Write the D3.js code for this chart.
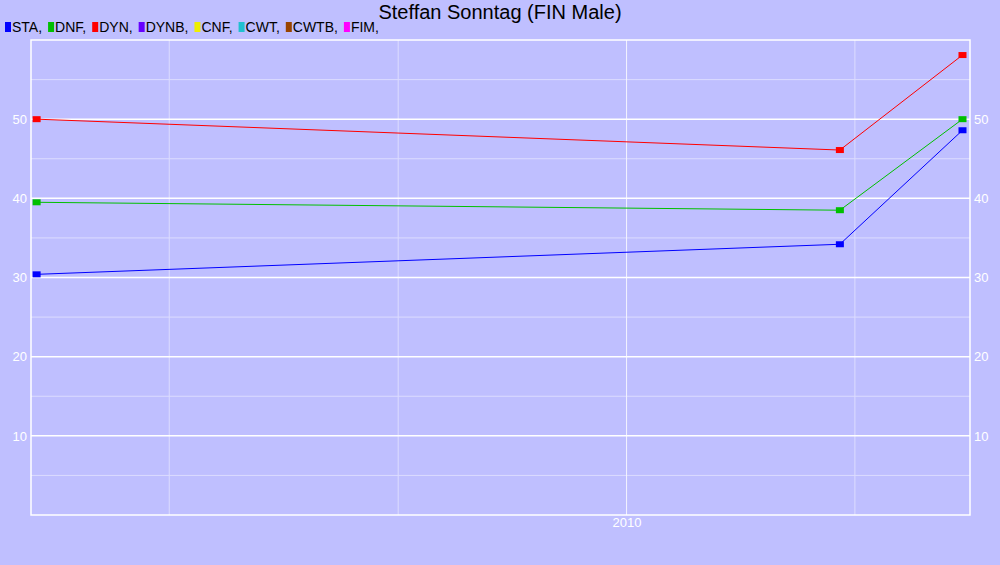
<!DOCTYPE html>
<html>
<head>
<meta charset="utf-8">
<script src="https://cdn.jsdelivr.net/npm/d3@7"></script>
<style>
  body { margin: 0; background: #bfbfff; }
  svg { display: block; font-family: "Liberation Sans", Arial, sans-serif; }
</style>
</head>
<body>
<svg width="1000" height="565"></svg>
<script>
// series names and colours for the legend
const disciplines = ["STA", "DNF", "DYN", "DYNB", "CNF", "CWT", "CWTB", "FIM"];
const colors = ["#0000ff", "#00c000", "#ff0000", "#6600ff", "#eeee00", "#20c0d0", "#994400", "#ff00ff"];

// competition dates
const dates = ["2007-06-03", "2010-12-08", "2011-06-22"];

// results (only STA, DNF, DYN have data)
const staValues = [30.4, 34.2, 48.6];
const dnfValues = [39.5, 38.5, 50];
const dynValues = [50, 46.1, 58.1];

const yTicks = [10, 20, 30, 40, 50];
const title = "Steffan Sonntag (FIN Male)";

const parse = d3.timeParse("%Y-%m-%d");
const svg = d3.select("svg"),
  width = +svg.attr("width"),
  height = +svg.attr("height");

const margin = {top: 40, right: 30, bottom: 50, left: 31};
const plotW = width - margin.left - margin.right,
  plotH = height - margin.top - margin.bottom;

const x = d3.scaleTime()
  .domain([parse("2007-05-25"), parse("2011-07-04")])
  .range([margin.left, margin.left + plotW]);
const y = d3.scaleLinear()
  .domain([0, 60])
  .range([margin.top + plotH, margin.top]);

const g = svg.append("g");

// minor horizontal grid lines
g.selectAll("line.hminor")
  .data(d3.range(5, 60, 10))
  .enter().append("line")
  .attr("x1", x.range()[0]).attr("x2", x.range()[1])
  .attr("y1", d => y(d)).attr("y2", d => y(d))
  .attr("stroke", "#dcdcff").attr("stroke-width", 1);

// vertical grid, one per year
g.selectAll("line.vgrid")
  .data(x.ticks(d3.timeYear.every(1)))
  .enter().append("line")
  .attr("x1", d => x(d)).attr("x2", d => x(d))
  .attr("y1", y(0)).attr("y2", y(60))
  .attr("stroke", d => d.getFullYear() % 5 === 0 ? "#f4f4ff" : "#dcdcff")
  .attr("stroke-width", 1);

// major horizontal grid lines
g.selectAll("line.hmajor")
  .data(yTicks)
  .enter().append("line")
  .attr("x1", x.range()[0]).attr("x2", x.range()[1])
  .attr("y1", d => y(d)).attr("y2", d => y(d))
  .attr("stroke", "#ffffff").attr("stroke-width", 1.5);

// plot frame
g.append("rect")
  .attr("x", x.range()[0]).attr("y", y(60))
  .attr("width", plotW).attr("height", plotH)
  .attr("fill", "none").attr("stroke", "#ffffff").attr("stroke-width", 1.5);

// axes labels
const leftAxis = d3.axisLeft(y).tickValues(yTicks).tickSize(0).tickPadding(4);
const rightAxis = d3.axisRight(y).tickValues(yTicks).tickSize(0).tickPadding(4);
const bottomAxis = d3.axisBottom(x).ticks(d3.timeYear.every(5)).tickFormat(d3.timeFormat("%Y")).tickSize(0).tickPadding(3);

function styleAxis(sel) {
  sel.select(".domain").remove();
  sel.selectAll("text").attr("fill", "#ffffff").attr("font-size", 13).attr("font-family", "Liberation Sans, Arial, sans-serif");
}
svg.append("g").attr("transform", "translate(" + x.range()[0] + ",0)").call(leftAxis).call(styleAxis);
svg.append("g").attr("transform", "translate(" + x.range()[1] + ",0)").call(rightAxis).call(styleAxis);
svg.append("g").attr("transform", "translate(0," + y(0) + ")").call(bottomAxis).call(styleAxis);

// series
const series = [
  {name: "STA", values: staValues},
  {name: "DNF", values: dnfValues},
  {name: "DYN", values: dynValues}
];
const line = d3.line().x(d => x(d.date)).y(d => y(d.value));

series.forEach(function(s) {
  const color = colors[disciplines.indexOf(s.name)];
  const pts = s.values.map((v, i) => ({date: parse(dates[i]), value: v}));
  g.append("path")
    .datum(pts)
    .attr("d", line)
    .attr("fill", "none")
    .attr("stroke", color)
    .attr("stroke-width", 1);
  g.selectAll(null)
    .data(pts)
    .enter().append("rect")
    .attr("x", d => x(d.date) - 4)
    .attr("y", d => y(d.value) - 3)
    .attr("width", 8).attr("height", 6)
    .attr("fill", color);
});

// title
svg.append("text")
  .attr("x", width / 2).attr("y", 19)
  .attr("text-anchor", "middle")
  .attr("font-size", 20)
  .attr("fill", "#000")
  .text(title);

// legend
let lx = 5;
disciplines.forEach(function(name, i) {
  svg.append("rect")
    .attr("x", lx).attr("y", 22)
    .attr("width", 6).attr("height", 10)
    .attr("fill", colors[i]);
  const t = svg.append("text")
    .attr("x", lx + 7).attr("y", 32)
    .attr("font-size", 14)
    .attr("fill", "#000")
    .text(name + ",");
  lx += 7 + t.node().getComputedTextLength() + 6;
});
</script>
</body>
</html>
